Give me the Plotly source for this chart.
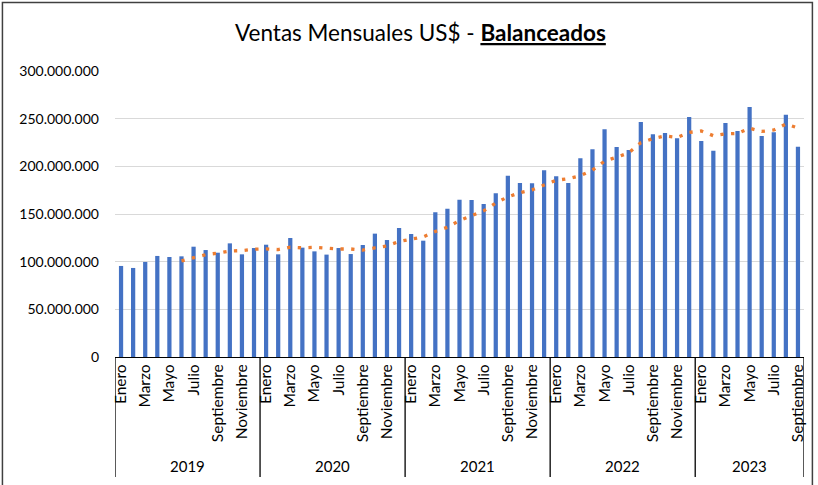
import pandas as pd
import plotly.graph_objects as go

# Monthly sales (US$) by year
years = ["2019", "2020", "2021", "2022", "2023"]
months = ["Enero", "Febrero", "Marzo", "Abril", "Mayo", "Junio", "Julio",
          "Agosto", "Septiembre", "Octubre", "Noviembre", "Diciembre"]

sales_2019 = [95.5, 93.4, 99.7, 106.0, 104.9, 105.6, 115.7, 112.2, 109.4, 119.2, 107.7, 114.3]
sales_2020 = [117.8, 107.7, 124.8, 114.7, 110.8, 107.4, 114.3, 108.0, 117.5, 129.4, 122.7, 135.3]
sales_2021 = [129.0, 122.0, 151.8, 155.6, 165.0, 164.7, 160.5, 171.7, 190.2, 182.5, 182.2, 195.8]
sales_2022 = [189.5, 182.5, 208.4, 217.8, 238.8, 220.3, 217.1, 246.5, 233.6, 235.0, 229.4, 251.8]
sales_2023 = [226.6, 216.4, 245.5, 237.1, 262.2, 231.8, 235.7, 254.2, 220.6]

y_ticks = [0, 50e6, 100e6, 150e6, 200e6, 250e6, 300e6]
ma_window = 6

series = [sales_2019, sales_2020, sales_2021, sales_2022, sales_2023]
values = [v * 1e6 for s in series for v in s]
month_names = [months[i] for s in series for i in range(len(s))]
idx = list(range(len(values)))
trend = pd.Series(values).rolling(ma_window).mean()

# plot-area geometry in pixels
W, H = 818, 485
L, R, T, B = 115, 803.6, 71, 357
def px(x):
    return (x - L) / (R - L)
def py(y):
    return (B - y) / (B - T)

BLUE = "#4472C4"
ORANGE = "#ED7D31"
FONT = "Lato"

fig = go.Figure()
fig.add_trace(go.Bar(x=idx, y=values, marker=dict(color=BLUE, line=dict(width=0)),
                     name="Ventas"))
fig.add_trace(go.Scatter(x=idx, y=trend, mode="lines",
                         line=dict(color=ORANGE, width=3.3, dash="3.3px,7.4px"),
                         name="Media móvil"))

# month ticks on every other category
tick_vals = [i for i in idx if i % 2 == 0]
tick_text = [month_names[i] for i in tick_vals]

shapes = []
annotations = []
start = 0
bounds = [-0.5]
for yr, s in zip(years, series):
    end = start + len(s)
    bounds.append(end - 0.5)
    annotations.append(dict(x=(start + end - 1) / 2, y=py(466), xref="x", yref="paper",
                            text=yr, showarrow=False, xanchor="center", yanchor="middle",
                            font=dict(family=FONT, size=15, color="#000000")))
    start = end
for b in bounds:
    shapes.append(dict(type="line", xref="x", yref="paper", x0=b, x1=b,
                       y0=0, y1=py(477), line=dict(color="#000000", width=1.3)))

# chart border
shapes.append(dict(type="rect", xref="paper", yref="paper",
                   x0=px(2.5), x1=px(812), y0=py(495), y1=py(2.5),
                   line=dict(color="#404040", width=1.5), layer="above"))

annotations.append(dict(x=px(420), y=py(33), xref="paper", yref="paper",
                        text="Ventas Mensuales US$ - <b><u>Balanceados</u></b>",
                        showarrow=False, xanchor="center", yanchor="middle",
                        font=dict(family=FONT, size=22.5, color="#000000")))

fig.update_layout(
    width=W, height=H,
    margin=dict(l=L, r=W - R, t=T, b=H - B, pad=0),
    paper_bgcolor="white", plot_bgcolor="white",
    showlegend=False, bargap=0.65,
    separators=",.",
    shapes=shapes, annotations=annotations,
    font=dict(family=FONT, color="#000000"),
)
fig.update_xaxes(range=[-0.5, len(values) - 0.5], tickmode="array",
                 tickvals=tick_vals, ticktext=tick_text, tickangle=-90,
                 showgrid=False, zeroline=False, showline=True,
                 linecolor="#000000", linewidth=1.3, ticks="",
                 tickfont=dict(family=FONT, size=15.5, color="#000000"))
fig.update_yaxes(range=[0, 300e6], tickmode="array", tickvals=y_ticks,
                 tickformat=",d", showgrid=True, gridcolor="#D9D9D9", gridwidth=1,
                 zeroline=False, showline=False, ticks="", ticklabelstandoff=15,
                 tickfont=dict(family=FONT, size=14, color="#000000"))

fig.write_html("out.html")
